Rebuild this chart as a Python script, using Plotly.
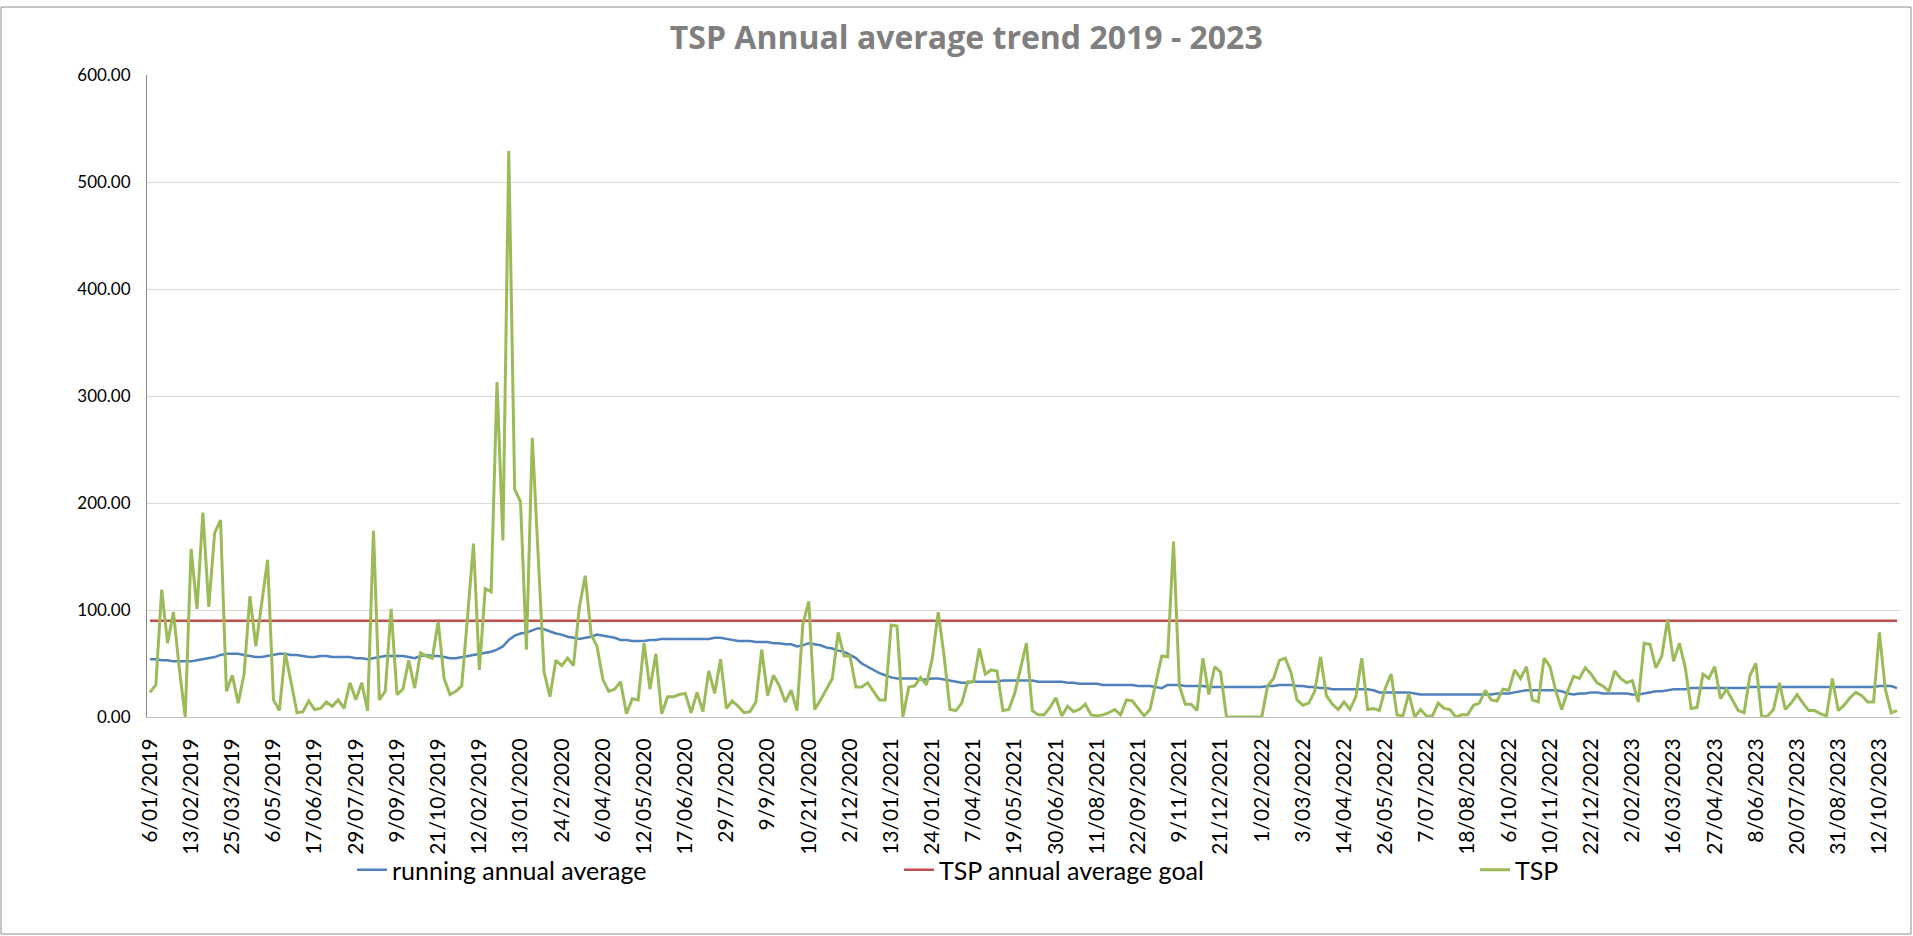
import plotly.graph_objects as go

# ---------------- data ----------------
tick_labels = [
    "6/01/2019", "13/02/2019", "25/03/2019", "6/05/2019", "17/06/2019", "29/07/2019",
    "9/09/2019", "21/10/2019", "12/02/2019", "13/01/2020", "24/2/2020", "6/04/2020",
    "12/05/2020", "17/06/2020", "29/7/2020", "9/9/2020", "10/21/2020", "2/12/2020",
    "13/01/2021", "24/01/2021", "7/04/2021", "19/05/2021", "30/06/2021", "11/08/2021",
    "22/09/2021", "9/11/2021", "21/12/2021", "1/02/2022", "3/03/2022", "14/04/2022",
    "26/05/2022", "7/07/2022", "18/08/2022", "6/10/2022", "10/11/2022", "22/12/2022",
    "2/02/2023", "16/03/2023", "27/04/2023", "8/06/2023", "20/07/2023", "31/08/2023",
    "12/10/2023",
]

tsp = [
    23, 30, 119, 69, 98, 45, 0, 157, 101, 191,
    103, 172, 184, 24, 39, 13, 40, 113, 66, 106,
    147, 16, 6, 60, 32, 4, 5, 15, 7, 8,
    14, 10, 16, 8, 32, 16, 32, 6, 174, 16,
    24, 101, 21, 26, 53, 27, 60, 57, 55, 89,
    36, 21, 24, 29, 94, 162, 44, 120, 117, 313,
    165, 529, 213, 201, 63, 261, 150, 42, 19, 53,
    48, 55, 48, 103, 132, 77, 66, 35, 24, 26,
    33, 3, 17, 16, 69, 26, 59, 3, 19, 19,
    21, 22, 4, 23, 5, 43, 22, 54, 8, 15,
    10, 4, 5, 14, 63, 20, 39, 29, 14, 25,
    6, 87, 108, 7, 16, 26, 36, 79, 57, 57,
    28, 28, 32, 24, 16, 16, 86, 85, 0, 28,
    29, 37, 30, 55, 98, 57, 7, 6, 13, 33,
    33, 64, 40, 44, 43, 6, 7, 22, 46, 69,
    6, 2, 2, 9, 18, 1, 10, 5, 7, 12,
    2, 1, 2, 4, 7, 2, 16, 15, 8, 1,
    7, 32, 57, 56, 164, 29, 12, 12, 6, 55,
    21, 47, 42, 0, 0, 0, 0, 0, 0, 0,
    29, 36, 53, 55, 41, 16, 11, 13, 24, 56,
    20, 12, 7, 14, 7, 19, 55, 7, 8, 6,
    27, 40, 2, 1, 22, 0, 7, 1, 1, 13,
    8, 7, 0, 2, 2, 11, 13, 25, 16, 15,
    26, 25, 44, 36, 47, 16, 14, 55, 47, 24,
    7, 24, 38, 36, 46, 40, 32, 29, 24, 43,
    36, 32, 34, 14, 69, 68, 46, 57, 91, 52,
    69, 46, 8, 9, 40, 36, 47, 17, 26, 16,
    6, 4, 39, 50, 0, 1, 7, 32, 7, 13,
    21, 13, 6, 6, 3, 1, 36, 6, 11, 18,
    23, 20, 14, 14, 79, 26, 4, 6,
]

running_avg = [
    54, 54, 53, 53, 52, 52, 52, 52, 53, 54,
    55, 56, 58, 59, 59, 59, 58, 57, 56, 56,
    57, 58, 59, 59, 58, 58, 57, 56, 56, 57,
    57, 56, 56, 56, 56, 55, 55, 54, 55, 56,
    57, 57, 57, 57, 56, 55, 57, 58, 57, 57,
    56, 55, 55, 56, 57, 58, 59, 60, 61, 63,
    66, 72, 76, 78, 79, 81, 83, 82, 80, 78,
    77, 75, 74, 73, 74, 75, 77, 76, 75, 74,
    72, 72, 71, 71, 71, 72, 72, 73, 73, 73,
    73, 73, 73, 73, 73, 73, 74, 74, 73, 72,
    71, 71, 71, 70, 70, 70, 69, 69, 68, 68,
    66, 67, 69, 68, 67, 65, 64, 62, 61, 58,
    55, 50, 47, 44, 41, 39, 37, 36, 36, 36,
    36, 35, 35, 36, 36, 35, 34, 33, 32, 32,
    33, 33, 33, 33, 33, 34, 34, 34, 34, 34,
    34, 33, 33, 33, 33, 33, 32, 32, 31, 31,
    31, 31, 30, 30, 30, 30, 30, 30, 29, 29,
    29, 28, 27, 30, 30, 30, 29, 29, 29, 29,
    28, 28, 28, 28, 28, 28, 28, 28, 28, 28,
    29, 29, 30, 30, 30, 29, 29, 28, 28, 27,
    27, 26, 26, 26, 26, 26, 26, 26, 25, 23,
    23, 23, 23, 23, 23, 22, 21, 21, 21, 21,
    21, 21, 21, 21, 21, 21, 21, 21, 21, 22,
    22, 22, 23, 24, 25, 25, 25, 25, 25, 25,
    24, 22, 21, 22, 22, 23, 23, 22, 22, 22,
    22, 22, 21, 21, 22, 23, 24, 24, 25, 26,
    26, 26, 27, 27, 27, 27, 27, 27, 27, 27,
    27, 27, 28, 28, 28, 28, 28, 28, 28, 28,
    28, 28, 28, 28, 28, 28, 28, 28, 28, 28,
    28, 28, 28, 28, 29, 29, 29, 27,
]

goal_value = 90
label_step = 7

# ---------------- figure ----------------
W, H = 1913, 936
ML, MR, MT, MB = 147, 13, 75, 219
n = len(tsp)
x = list(range(n))
goal = [goal_value] * n

FONT = "Lato"

fig = go.Figure()
fig.add_trace(go.Scatter(x=x, y=running_avg, mode="lines", name="running annual average",
                         line=dict(color="#4f81bd", width=2.5), legend="legend"))
fig.add_trace(go.Scatter(x=x, y=goal, mode="lines", name="TSP annual average goal",
                         line=dict(color="#c0504d", width=2.5), legend="legend2"))
fig.add_trace(go.Scatter(x=x, y=tsp, mode="lines", name="TSP",
                         line=dict(color="#9bbb59", width=3), legend="legend3"))

tickvals = [i * label_step for i in range(len(tick_labels))]

def leg(xpx):
    return dict(orientation="h", xref="container", yref="container",
                x=xpx / W, xanchor="left", y=1 - 870 / H, yanchor="middle",
                bgcolor="rgba(0,0,0,0)",
                font=dict(family=FONT, size=25, color="#000000"))

# chart-area border (expressed in paper fractions of the plot area)
pw, ph = W - ML - MR, H - MT - MB
def px_x(v):
    return (v - ML) / pw
def px_y(v):
    return (H - MB - v) / ph

fig.update_layout(
    width=W, height=H,
    paper_bgcolor="white", plot_bgcolor="white",
    margin=dict(l=ML, r=MR, t=MT, b=MB, autoexpand=False),
    font=dict(family=FONT, color="#000000"),
    title=dict(text="<b>TSP Annual average trend 2019 - 2023</b>",
               x=(792 * 1.22) / W, xanchor="center", y=1 - 38 / H, yanchor="middle",
               font=dict(family="Open Sans", size=32, color="#7f7f7f")),
    showlegend=True,
    legend=leg(352), legend2=leg(899), legend3=leg(1475),
    xaxis=dict(range=[-0.5, n - 0.5], tickmode="array", tickvals=tickvals,
               ticktext=tick_labels, tickangle=-90, ticklabelstandoff=12,
               tickfont=dict(family=FONT, size=21, color="#000000"),
               showgrid=False, zeroline=False, showline=True, automargin=False,
               linecolor="#bfbfbf", linewidth=1),
    yaxis=dict(range=[0, 600], dtick=100, tickformat=".2f", ticklabelstandoff=12,
               tickfont=dict(family=FONT, size=17, color="#000000"),
               showgrid=True, gridcolor="#d9d9d9", gridwidth=1, automargin=False,
               zeroline=False, showline=True, linecolor="#868686", linewidth=1,
               ticks=""),
    shapes=[dict(type="rect", xref="paper", yref="paper",
                 x0=px_x(1), x1=px_x(W - 2), y0=px_y(H - 2), y1=px_y(7),
                 line=dict(color="#8c8c8c", width=1), fillcolor="rgba(0,0,0,0)",
                 layer="below")],
)

fig.write_html("out.html", config={"displayModeBar": False},
               post_script="document.body.style.margin='0';")
